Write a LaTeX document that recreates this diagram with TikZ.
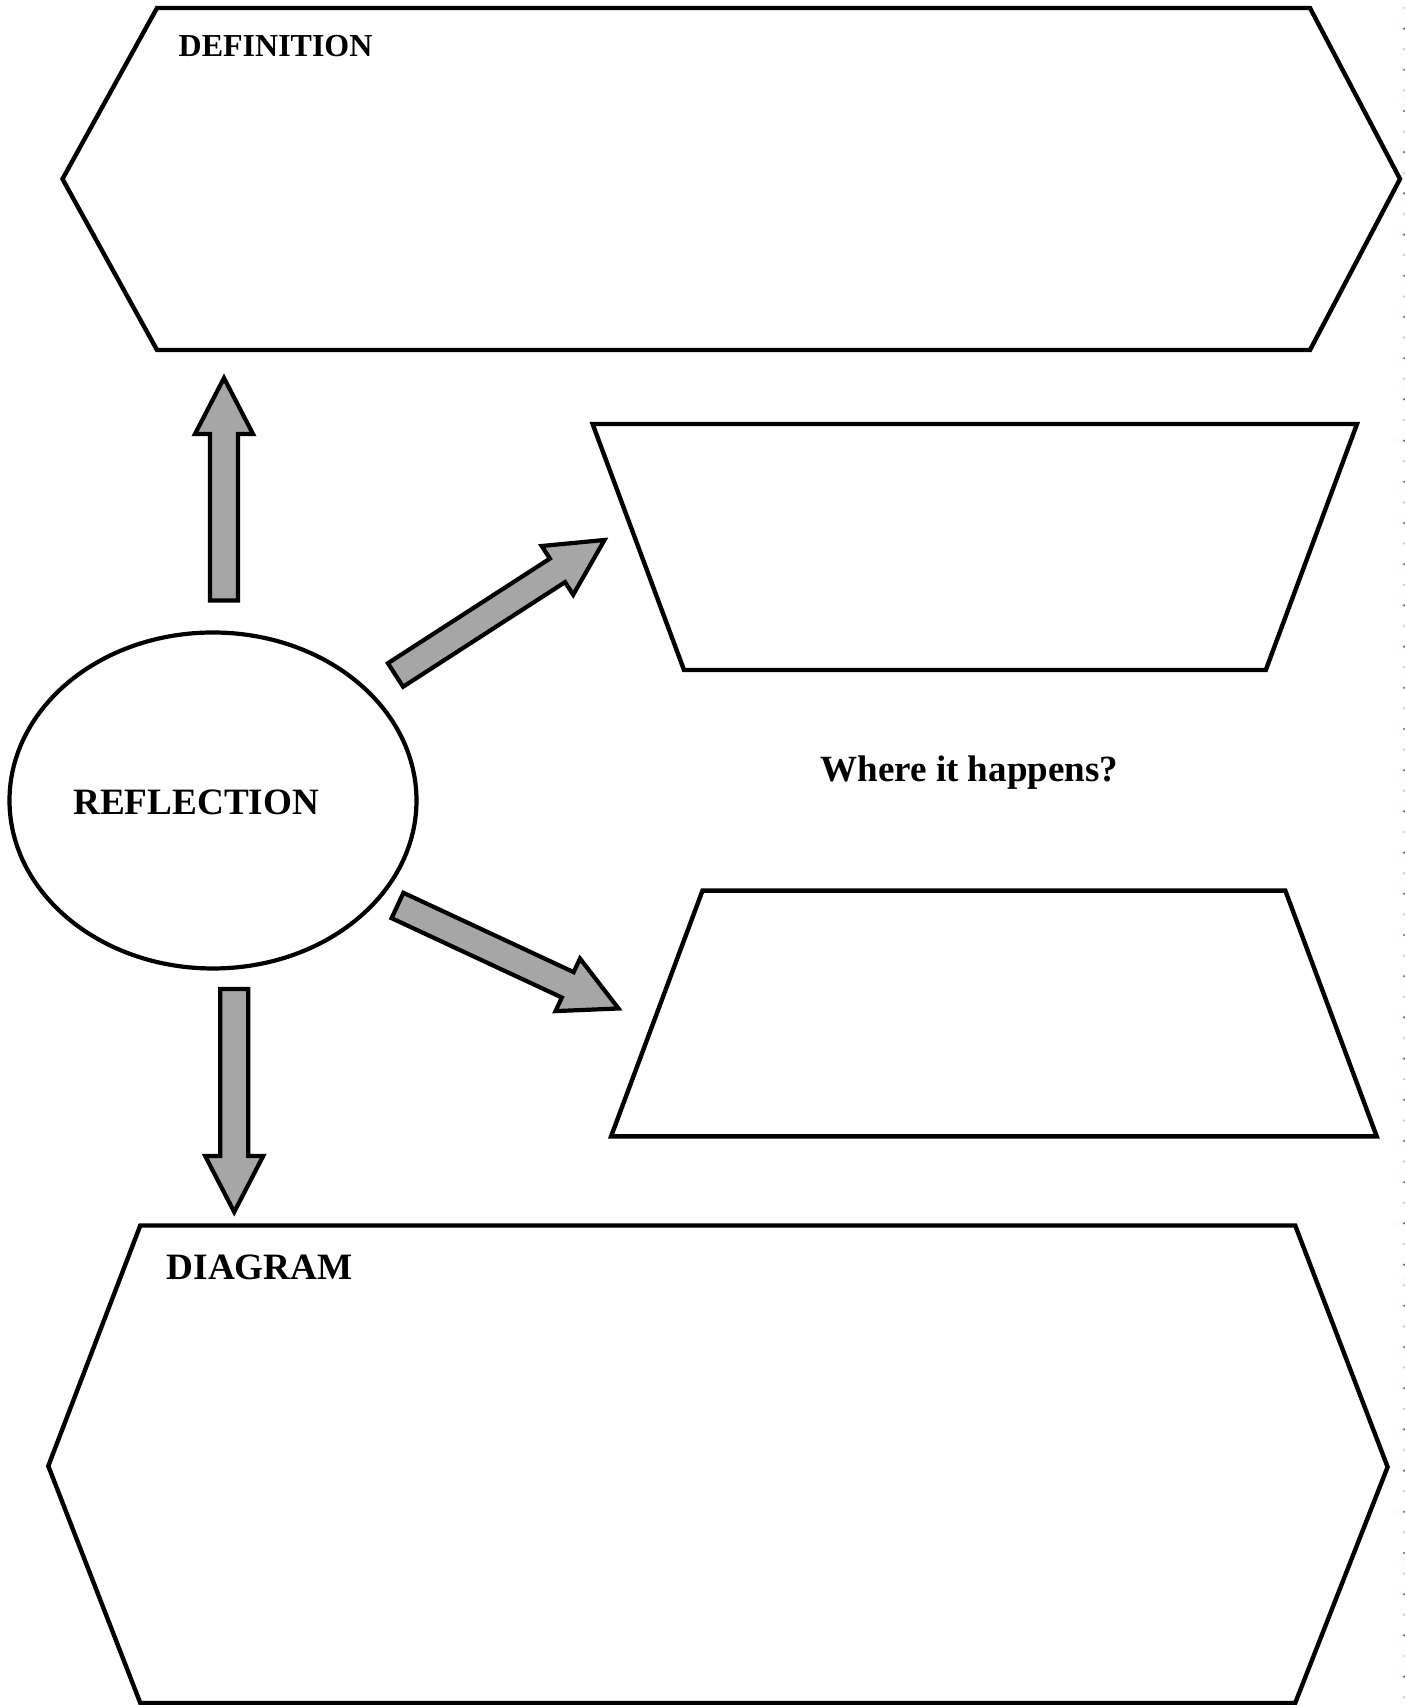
\documentclass[tikz,border=0pt]{standalone}
\usepackage{fontspec}
\setmainfont{Liberation Serif}
\usetikzlibrary{calc,shapes.geometric}

\definecolor{arrowgray}{RGB}{166,166,166}
\definecolor{dotgray}{RGB}{195,195,195}
\definecolor{dotblue}{RGB}{70,110,175}

% block arrow from #1 (tail centre) to #2 (tip); #3 names its helper point
\newcommand\blockarrow[3]{%
  \coordinate (#3-h) at ($(#2)!56pt!(#1)$);
  \draw[arrowbody]
    ($(#1)!14pt!-90:(#2)$) -- ($(#3-h)!14pt!90:(#1)$) -- ($(#3-h)!29pt!90:(#1)$)
    -- (#2) -- ($(#3-h)!29pt!-90:(#1)$) -- ($(#3-h)!14pt!-90:(#1)$)
    -- ($(#1)!14pt!90:(#2)$) -- cycle;}

\tikzset{
  outline/.style={draw=black, line width=4.4pt, line join=miter},
  arrowbody/.style={draw=black, fill=arrowgray, line width=4.2pt, line join=miter},
  label/.style={inner sep=0pt, anchor=base west, font=\bfseries},
}

\begin{document}
\begin{tikzpicture}[x=1pt,y=1pt]
  \useasboundingbox (0,0) rectangle (1405,1705);

  % definition panel
  \draw[outline] (157,1697) -- (1310,1697) -- (1400,1526) -- (1310,1355)
    -- (157,1355) -- (62.5,1526) -- cycle;
  \node[label, font=\bfseries\fontsize{32}{36}\selectfont] (deftext) at (178.5,1648.5) {DEFINITION};

  % two trapezoid panels on the right
  \draw[outline] (592.6,1281) -- (1357,1281) -- (1265.8,1035) -- (684,1035) -- cycle;
  \draw[outline] (702.5,814.4) -- (1285.3,814.4) -- (1376.7,568.6) -- (611.1,568.6) -- cycle;
  \node[label, font=\bfseries\fontsize{37}{41}\selectfont] (where) at (820.5,923.3) {Where it happens?};

  % diagram panel
  \draw[outline] (140.3,479.5) -- (1295.2,479.5) -- (1387.6,238) -- (1295.2,2)
    -- (140.3,2) -- (48.3,239) -- cycle;
  \node[label, font=\bfseries\fontsize{37.2}{41}\selectfont] (diagtext) at (166.5,425.7) {DIAGRAM};

  % central ellipse
  \node[ellipse, draw=black, line width=4.2pt, minimum width=407pt, minimum height=336pt,
        inner sep=0pt] (reflection) at (213,904.5) {};
  \node[label, font=\bfseries\fontsize{37.2}{41}\selectfont] (refltext) at (73,890) {REFLECTION};

  % arrows leaving the ellipse
  \coordinate (upTail) at (224,1104.5);
  \coordinate (upTip) at (224,1327);
  \coordinate (urTail) at (395.5,1030);
  \coordinate (urTip) at (604.5,1165);
  \coordinate (drTail) at (397.5,799.5);
  \coordinate (drTip) at (618.5,696.5);
  \coordinate (dnTail) at (234.2,716);
  \coordinate (dnTip) at (234.2,493);
  \blockarrow{upTail}{upTip}{up}
  \blockarrow{urTail}{urTip}{ur}
  \blockarrow{drTail}{drTip}{dr}
  \blockarrow{dnTail}{dnTip}{dn}

  % dotted page edge
  \foreach \i in {0,...,82}{
    \pgfmathtruncatemacro\odd{mod(\i,2)}
    \ifnum\odd=0
      \fill[dotgray] (1404,1697-\i*20.6) circle (1.2);
    \else
      \fill[dotblue] (1404,1697-\i*20.6) circle (1.2);
    \fi
  }
\end{tikzpicture}
\end{document}
